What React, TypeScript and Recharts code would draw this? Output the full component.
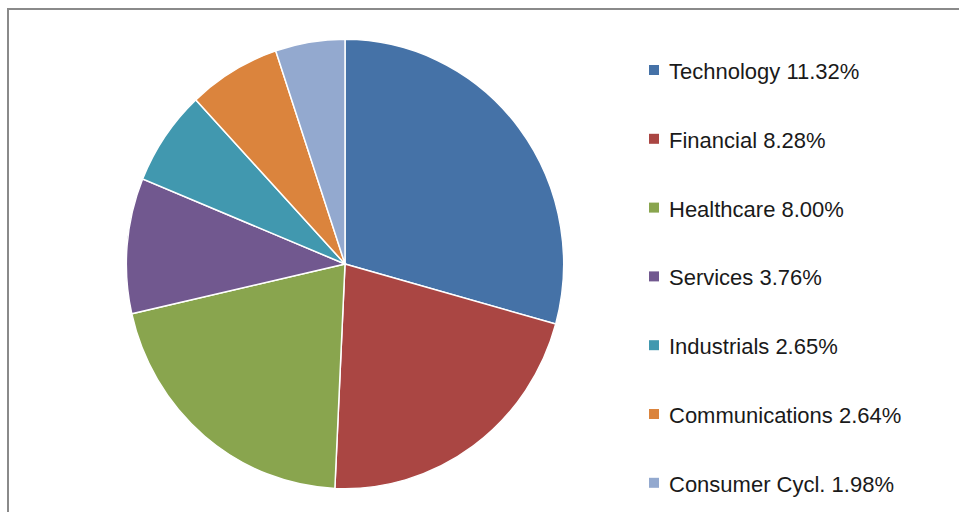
import React from 'react';
import { PieChart, Pie, Cell } from 'recharts';

const sectors = ['Technology', 'Financial', 'Healthcare', 'Services', 'Industrials', 'Communications', 'Consumer Cycl.'];
const weights = [11.32, 8.28, 8.0, 3.76, 2.65, 2.64, 1.98];
const COLORS = ['#4572A7', '#AA4643', '#89A54E', '#71588F', '#4198AF', '#DB843D', '#93A9CF'];

const pieData = sectors.map((name, i) => ({ name, value: weights[i] }));

const App: React.FC = () => {
  const size = 480;
  const radius = 222;
  return (
    <div style={{ position: 'fixed', left: 0, top: 0, width: 959, height: 512, overflow: 'hidden', background: '#fff' }}>
      <div style={{ position: 'absolute', left: 7, top: 8, width: 1000, height: 600, border: '2px solid #8a8a8a', boxSizing: 'border-box' }} />
      <div
        style={{
          position: 'absolute',
          left: 345 - size / 2,
          top: 264 - size / 2,
          width: size,
          height: size,
          transform: 'scale(0.985, 1.012)',
        }}
      >
        <PieChart width={size} height={size}>
          <Pie
            data={pieData}
            dataKey="value"
            nameKey="name"
            cx="50%"
            cy="50%"
            outerRadius={radius}
            startAngle={90}
            endAngle={-270}
            stroke="#fff"
            strokeWidth={1.5}
            isAnimationActive={false}
          >
            {pieData.map((entry, index) => (
              <Cell key={`cell-${index}`} fill={COLORS[index % COLORS.length]} />
            ))}
          </Pie>
        </PieChart>
      </div>
      {/* legend, one row per sector */}
      <svg style={{ position: 'absolute', left: 0, top: 0 }} width={959} height={512}>
        {pieData.map((d, i) => {
          const cy = 70 + i * 68.8;
          return (
            <g key={d.name}>
              <rect x={649} y={cy - 5} width={10} height={10} fill={COLORS[i]} />
              <text x={669} y={cy + 9} fontFamily="'Liberation Sans', Arial, sans-serif" fontSize={22} fill="#1a1a1a">
                {`${d.name} ${d.value.toFixed(2)}%`}
              </text>
            </g>
          );
        })}
      </svg>
    </div>
  );
};

export default App;
